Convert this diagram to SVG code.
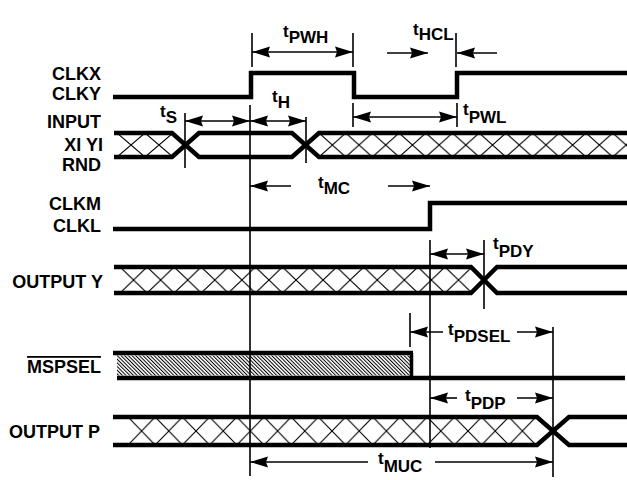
<svg xmlns="http://www.w3.org/2000/svg" width="627" height="480" viewBox="0 0 627 480">
<style>
.sig{font-family:"Liberation Sans",Arial,sans-serif;font-weight:bold;font-size:18px;fill:#000;text-anchor:end}
.tl{font-family:"Liberation Sans",Arial,sans-serif;font-weight:bold;font-size:17px;fill:#000}
.w{fill:none;stroke:#000;stroke-width:4.5;stroke-linejoin:miter;stroke-linecap:butt}
.t{fill:none;stroke:#000;stroke-width:1.6}
.a{fill:none;stroke:#000;stroke-width:1.6;marker-end:url(#ah)}
.b{fill:none;stroke:#000;stroke-width:1.6;marker-start:url(#ah);marker-end:url(#ah)}
.hx{fill:none;stroke:#000;stroke-width:1.1}
</style>
<defs>
<marker id="ah" viewBox="0 -6 18 12" refX="18" refY="0" markerWidth="18" markerHeight="12" markerUnits="userSpaceOnUse" orient="auto-start-reverse">
<path d="M0,-5.5 L18,0 L0,5.5 L2,0 z" fill="#000"/>
</marker>
<pattern id="xIn1" patternUnits="userSpaceOnUse" x="117" y="133" width="28" height="24"><path class="hx" d="M0,0 L28,24 M28,0 L0,24"/></pattern>
<pattern id="xIn2" patternUnits="userSpaceOnUse" x="319" y="133" width="26.7" height="24"><path class="hx" d="M0,0 L26.7,24 M26.7,0 L0,24"/></pattern>
<pattern id="xY" patternUnits="userSpaceOnUse" x="120" y="267" width="27.08" height="26"><path class="hx" d="M0,0 L27.08,26 M27.08,0 L0,26"/></pattern>
<pattern id="xP" patternUnits="userSpaceOnUse" x="128" y="417" width="27.2" height="28"><path class="hx" d="M0,0 L27.2,28 M27.2,0 L0,28"/></pattern>
<pattern id="diag" patternUnits="userSpaceOnUse" width="2.6" height="10" patternTransform="rotate(-45)"><rect x="0" y="0" width="1" height="10" fill="#000"/></pattern>
</defs>

<g id="clkx">
<text class="sig" x="101" y="80">CLKX</text>
<text class="sig" x="101" y="100">CLKY</text>
<path class="w" d="M113,97 H251 V73 H354 V97 H457 V73 H627"/>
</g>

<g id="input">
<text class="sig" x="101" y="128">INPUT</text>
<text class="sig" x="103" y="151">XI YI</text>
<text class="sig" x="101" y="171">RND</text>
<rect x="117" y="133" width="56" height="24" fill="url(#xIn1)"/>
<rect x="319" y="133" width="308" height="24" fill="url(#xIn2)"/>
<path class="w" d="M114,133 H172 L199,157 H292 L319,133 H627"/>
<path class="w" d="M114,157 H172 L199,133 H292 L319,157 H627"/>
</g>

<g id="clkm">
<text class="sig" x="101" y="210">CLKM</text>
<text class="sig" x="101" y="232">CLKL</text>
<path class="w" d="M113,229 H430 V203 H627"/>
</g>

<g id="outputy">
<text class="sig" x="103" y="288">OUTPUT Y</text>
<rect x="120" y="267" width="352" height="26" fill="url(#xY)"/>
<path class="w" d="M114,267 H471 L497,293 H627"/>
<path class="w" d="M114,293 H471 L497,267 H627"/>
</g>

<g id="mspsel">
<text class="sig" x="101" y="373" text-decoration="overline">MSPSEL</text>
<rect x="117" y="355.5" width="293" height="20" fill="url(#diag)"/>
<path class="w" d="M113,353 H413"/>
<path fill="none" stroke="#000" stroke-width="3.5" d="M411.5,353 V378"/>
<path class="w" d="M117,378 H625"/>
</g>

<g id="outputp">
<text class="sig" x="100" y="438">OUTPUT P</text>
<rect x="128" y="417" width="408" height="28" fill="url(#xP)"/>
<path class="w" d="M113,417 H537 L569,445 H627"/>
<path class="w" d="M113,445 H537 L569,417 H627"/>
</g>

<g id="connectors">
<path class="t" d="M252,33 V67 M353,33 V67 M456,33 V67 M353,103 V127 M457,103 V127 M185,113 V168 M306,117 V163 M250,105 V476 M430,240 V448 M484,240 V309 M410,313 V347 M553,327 V477"/>
<path class="b" d="M252,52 H353"/>
<path class="a" d="M387,53 H428"/>
<path class="a" d="M497,53 H457"/>
<path class="b" d="M353,117 H457"/>
<path class="b" d="M185,121 H250"/>
<path class="b" d="M250,121 H306"/>
<path class="a" d="M291,186 H250"/>
<path class="a" d="M388,186 H430"/>
<path class="b" d="M430,254 H484"/>
<path class="a" d="M443,332 H410"/>
<path class="a" d="M517,332 H553"/>
<path class="a" d="M457,398 H430"/>
<path class="a" d="M517,398 H553"/>
<path class="a" d="M368,462 H250"/>
<path class="a" d="M435,462 H553"/>
</g>

<g id="timing-labels">
<text class="tl" x="283" y="37">t<tspan dy="6">PWH</tspan></text>
<text class="tl" x="413" y="35">t<tspan dy="5">HCL</tspan></text>
<text class="tl" x="160" y="117">t<tspan dy="6">S</tspan></text>
<text class="tl" x="272" y="102">t<tspan dy="6">H</tspan></text>
<text class="tl" x="463" y="115">t<tspan dy="8">PWL</tspan></text>
<text class="tl" x="318" y="188">t<tspan dy="6">MC</tspan></text>
<text class="tl" x="493" y="249">t<tspan dy="8">PDY</tspan></text>
<text class="tl" x="448" y="335">t<tspan dy="7">PDSEL</tspan></text>
<text class="tl" x="465" y="401">t<tspan dy="8">PDP</tspan></text>
<text class="tl" x="378" y="464">t<tspan dy="8">MUC</tspan></text>
</g>
</svg>
